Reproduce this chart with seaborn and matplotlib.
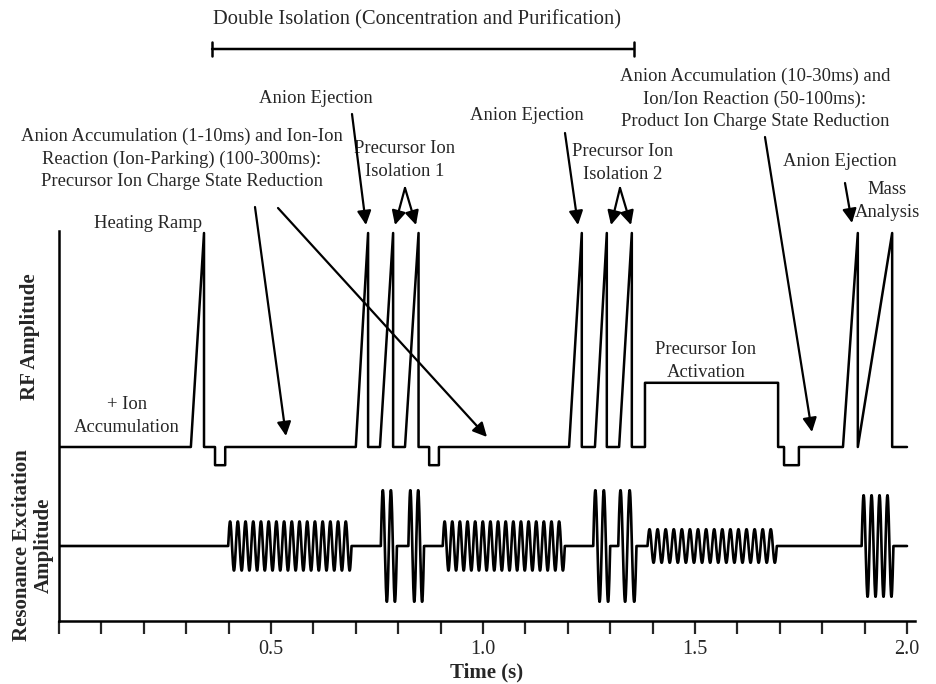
import numpy as np
import matplotlib
matplotlib.use("Agg")
import matplotlib.pyplot as plt
import seaborn as sns

sns.set_style("white")
plt.rcParams["font.family"] = ["Liberation Serif", "DejaVu Serif"]

# RF amplitude sequence: breakpoints (time in s, relative RF level)
rf_time = [0.0, 0.311, 0.342, 0.342, 0.368, 0.368, 0.392, 0.392,
           0.700, 0.729, 0.729, 0.757, 0.788, 0.788, 0.816, 0.848, 0.848,
           0.873, 0.873, 0.896, 0.896,
           1.203, 1.233, 1.233, 1.264, 1.292, 1.292, 1.321, 1.351, 1.351,
           1.382, 1.382, 1.696, 1.696, 1.710, 1.710, 1.745, 1.745,
           1.849, 1.884, 1.884, 1.965, 1.965, 2.000]
rf_level = [0, 0, 1, 0, 0, -0.085, -0.085, 0,
            0, 1, 0, 0, 1, 0, 0, 1, 0,
            0, -0.085, -0.085, 0,
            0, 1, 0, 0, 1, 0, 0, 1, 0,
            0, 0.30, 0.30, 0, 0, -0.085, -0.085, 0,
            0, 1, 0, 1, 0, 0]

# resonance excitation bursts
burst_start = [0.399, 0.759, 0.824, 0.905, 1.260, 1.319, 1.388, 1.893]
burst_end = [0.690, 0.797, 0.861, 1.193, 1.300, 1.362, 1.693, 1.968]
burst_amp = [0.44, 1.0, 1.0, 0.44, 1.0, 1.0, 0.30, 0.91]
burst_cycles = [16, 2, 2, 16, 2, 2, 16, 4]
res_end = 2.0

isolation_window = [0.361, 1.356]

# vertical placement of the two traces (axes units)
rf_base, rf_scale = 174, 214
res_base, res_scale = 75, 56

res_t = [0.0]
res_y = [0.0]
for s, e, a, c in zip(burst_start, burst_end, burst_amp, burst_cycles):
    tt = np.linspace(s, e, 30 * c + 1)
    res_t.extend(tt)
    res_y.extend(a * np.sin(2 * np.pi * c * (tt - s) / (e - s)))
res_t.append(res_end)
res_y.append(0.0)

fig = plt.figure(figsize=(9.36, 6.84), dpi=100)
ax = fig.add_axes([59 / 936, 63 / 684, 856 / 936, 390 / 684])

sns.lineplot(x=rf_time, y=rf_base + rf_scale * np.array(rf_level), ax=ax,
             sort=False, estimator=None, color="black", lw=1.8)
sns.lineplot(x=res_t, y=res_base + res_scale * np.array(res_y), ax=ax,
             sort=False, estimator=None, color="black", lw=1.9)

ax.set_xlim(0, 856 / 424)
ax.set_ylim(0, 390)
ax.set_xticks([0.5, 1.0, 1.5, 2.0])
ax.set_xticklabels(["0.5", "1.0", "1.5", "2.0"], fontsize=14.5)
ax.set_xticks(np.arange(0, 2.01, 0.1), minor=True)
ax.set_yticks([])
ax.tick_params(axis="x", which="both", direction="out", length=9, width=1.6,
               pad=5, bottom=True)
for side in ["top", "right"]:
    ax.spines[side].set_visible(False)
for side in ["left", "bottom"]:
    ax.spines[side].set_linewidth(1.8)
    ax.spines[side].set_color("black")
ax.set_xlabel("Time (s)", fontsize=15, fontweight="bold", labelpad=2)

fig.text(30 / 936, 1 - 337 / 684, "RF Amplitude", rotation=90, fontsize=15,
         fontweight="bold", ha="center", va="center")
fig.text(33 / 936, 1 - 545 / 684, "Resonance Excitation\nAmplitude", rotation=90,
         fontsize=15, fontweight="bold", ha="center", va="center", linespacing=1.1)


def px(x, y):
    return ((x - 59) / 424, 621 - y)


def label(x, y, s, size=13.4):
    tx, ty = px(x, y)
    ax.text(tx, ty, s, fontsize=size, ha="center", va="center", linespacing=1.4,
            clip_on=False)


def arrow(x0, y0, x1, y1):
    ax.annotate("", xy=px(x1, y1), xytext=px(x0, y0), annotation_clip=False,
                arrowprops=dict(arrowstyle="-|>", color="black", lw=1.6,
                                mutation_scale=21, shrinkA=0, shrinkB=0))


# double isolation bracket
ax.annotate("", xy=(isolation_window[1], 572), xytext=(isolation_window[0], 572),
            annotation_clip=False,
            arrowprops=dict(arrowstyle="|-|, widthA=0.5, widthB=0.5",
                            color="black", lw=1.8, shrinkA=0, shrinkB=0))
label(417, 20, "Double Isolation (Concentration and Purification)", size=14.8)

label(182, 159, "Anion Accumulation (1-10ms) and Ion-Ion\n"
      "Reaction (Ion-Parking) (100-300ms):\nPrecursor Ion Charge State Reduction")
label(316, 98, "Anion Ejection")
label(405, 160, "Precursor Ion\nIsolation 1")
label(527, 115, "Anion Ejection")
label(623, 163, "Precursor Ion\nIsolation 2")
label(755, 99, "Anion Accumulation (10-30ms) and\nIon/Ion Reaction (50-100ms):\n"
      "Product Ion Charge State Reduction")
label(840, 161, "Anion Ejection")
label(887, 201, "Mass\nAnalysis")
label(148, 223, "Heating Ramp")
label(127, 416, "+ Ion\nAccumulation")
label(706, 361, "Precursor Ion\nActivation")

arrow(255, 207, 286, 436)
arrow(278, 208, 487, 437)
arrow(352, 114, 366, 225)
arrow(405, 188, 395, 225)
arrow(405, 188, 416, 225)
arrow(565, 133, 578, 225)
arrow(620, 188, 611, 225)
arrow(620, 188, 631, 225)
arrow(765, 137, 812, 432)
arrow(845, 183, 852, 223)

fig.savefig("out.png", dpi=100)
